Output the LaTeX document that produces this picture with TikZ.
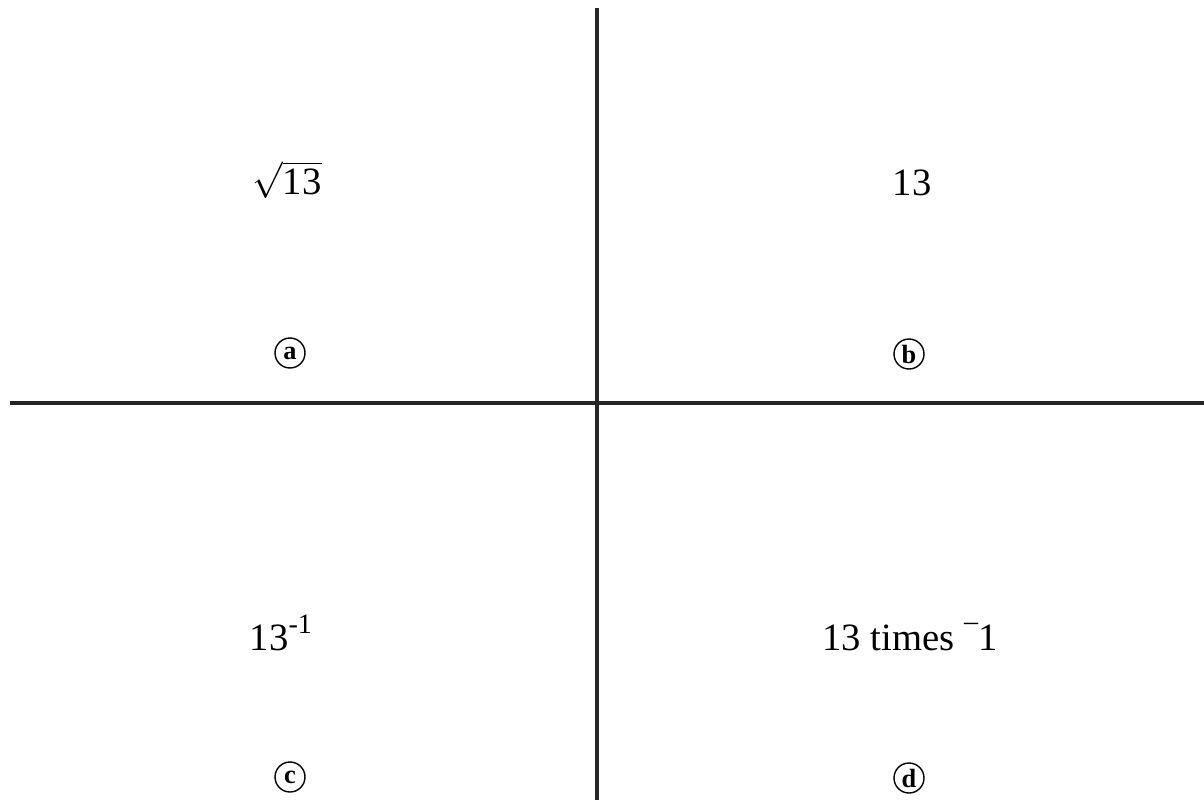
\documentclass[tikz,border=0pt]{standalone}
\usepackage{fontspec}
\setmainfont{LiberationSerif}[Extension=.ttf, UprightFont=*-Regular, BoldFont=*-Bold, ItalicFont=*-Italic, BoldItalicFont=*-BoldItalic]
\usetikzlibrary{positioning}
\tikzset{
    axisline/.style={line width=2.2pt, draw=black!85},
    entry/.style={font=\fontsize{22}{26}\selectfont, inner sep=1pt},
    tag/.style={circle, draw, thick, inner sep=0pt, minimum size=0.6cm, font=\fontsize{15}{17}\selectfont\bfseries}
}
\begin{document}
\begin{tikzpicture}[x=0.02cm, y=-0.02cm]
    \useasboundingbox (0,0) rectangle (1204,802);
    % axes
    \coordinate (top) at (597,8);
    \coordinate (bottom) at (597,800);
    \coordinate (left) at (10,403);
    \coordinate (right) at (1204,403);
    \draw[axisline] (top) -- (bottom);
    \draw[axisline] (left) -- (right);

    % quadrant entries
    \node[entry] (sqrt) at (287,180) {$\sqrt{\mbox{13}}$};
    \node[entry] (plain) at (912,183) {13};
    \node[entry] (inv) at (281,633) {13\raisebox{0.45em}{\fontsize{16}{18}\selectfont -1}};
    \node[entry] (neg) at (910,637) {13 times \raisebox{0.5em}{\fontsize{16}{18}\selectfont –}1};

    % circled tags
    \node[tag] (a) at (290,353) {a};
    \node[tag] (b) at (909,354) {b};
    \node[tag] (c) at (290,777) {c};
    \node[tag] (d) at (909,778) {d};
\end{tikzpicture}
\end{document}
